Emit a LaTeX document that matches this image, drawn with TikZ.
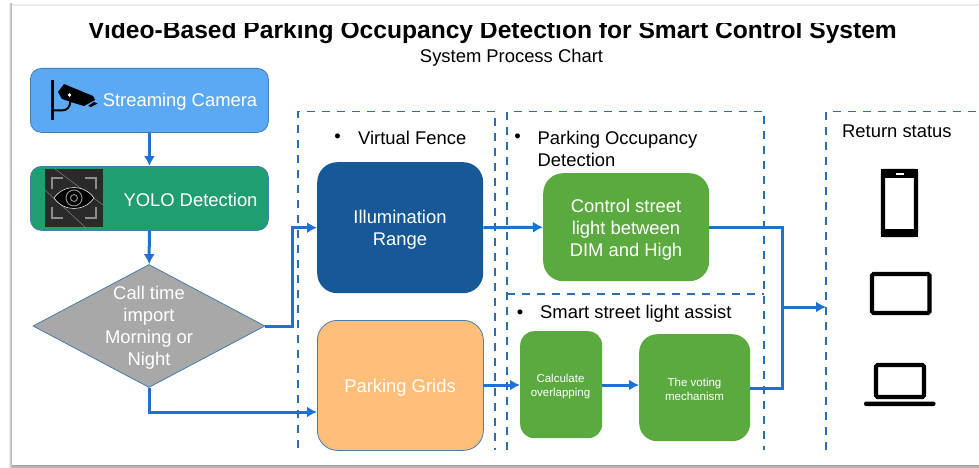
\documentclass[tikz,border=0pt]{standalone}
\usepackage{fontspec}
\setmainfont{Liberation Sans}
\usepackage{tikz}
\definecolor{camblue}{RGB}{91, 168, 245}
\definecolor{yologreen}{RGB}{31, 158, 114}
\definecolor{callgray}{RGB}{168, 168, 168}
\definecolor{illumblue}{RGB}{23, 88, 150}
\definecolor{gridorange}{RGB}{255, 190, 122}
\definecolor{stepgreen}{RGB}{91, 170, 63}
\definecolor{edgeblue}{RGB}{70, 125, 175}
\definecolor{flowblue}{RGB}{30, 115, 210}
\definecolor{fenceblue}{RGB}{45, 110, 175}
\definecolor{icondark}{RGB}{42, 42, 42}
\usetikzlibrary{shapes.geometric}
\usetikzlibrary{arrows.meta}
\tikzset{
  boxtext/.style={text=white, font=\fontsize{18.4}{22}\selectfont, align=center, inner sep=0pt},
  smalltext/.style={text=white, font=\fontsize{11.5}{14}\selectfont, align=center, inner sep=0pt},
  headtext/.style={text=black, font=\fontsize{18.4}{22}\selectfont, align=left, inner sep=0pt, anchor=west},
  flowbox/.style={rounded corners=#1, inner sep=0pt, anchor=north west},
  flow/.style={draw=flowblue, line width=3pt, -{Latex[length=10pt, width=11pt]}},
  flowline/.style={draw=flowblue, line width=3pt},
  fence/.style={draw=fenceblue, line width=1.6pt, dash pattern=on 8pt off 7pt},
  device/.style={draw=black, line width=4.2pt, rounded corners=1.5pt},
}
\begin{document}
\begin{tikzpicture}[x=1pt, y=1pt]
\useasboundingbox (0, 0) rectangle (979, -468);
% sheet
\shade [left color=white, right color=black!35] (8, -4) rectangle (12, -468);
\shade [top color=black!35, bottom color=black!25] (12, -465) rectangle (979, -468);
\fill [color=black!8] (12, -4) rectangle (979, -6);
\fill [color=white] (12, -6) rectangle (979, -465);
% title
\node (title) [font=\bfseries\fontsize{24.6}{28}\selectfont, inner sep=0pt] at (492.5, -32) {Video-Based Parking Occupancy Detection for Smart Control System};
\fill [color=white] (12, -6) rectangle (979, -23.5);
\node (subtitle) [font=\fontsize{18.4}{22}\selectfont, inner sep=0pt] at (511.5, -57.5) {System Process Chart};
% fences
\draw [fence] (298, -448) -- (298, -111.5) -- (495, -111.5) -- (495, -450);
\draw [fence] (507, -450) -- (507, -111.5) -- (764, -111.5) -- (764, -450);
\draw [fence] (507, -294) -- (764, -294);
\draw [fence] (826, -450) -- (826, -111.5) -- (979, -111.5);
% boxes
\node (camera) [flowbox=11pt, minimum width=238pt, minimum height=64pt, fill=camblue, draw=edgeblue, line width=0.8pt] at (30, -68) {};
\node (yolo) [flowbox=11pt, minimum width=238pt, minimum height=64pt, fill=yologreen, draw=edgeblue, line width=0.8pt] at (30, -166) {};
\node (calltime) [diamond, minimum width=232pt, minimum height=123pt, inner sep=0pt, fill=callgray, draw=edgeblue, line width=0.8pt] at (149, -326) {};
\node (illum) [flowbox=20pt, minimum width=166pt, minimum height=131pt, fill=illumblue] at (317, -162) {};
\node (grids) [flowbox=20pt, minimum width=166pt, minimum height=130pt, fill=gridorange, draw=edgeblue, line width=0.8pt] at (317, -320) {};
\node (control) [flowbox=20pt, minimum width=166pt, minimum height=108pt, fill=stepgreen] at (543, -173) {};
\node (overlap) [flowbox=14pt, minimum width=82pt, minimum height=107pt, fill=stepgreen] at (520, -331) {};
\node (voting) [flowbox=18pt, minimum width=111pt, minimum height=107pt, fill=stepgreen] at (639, -334) {};
% labels
\node (cameratext) [boxtext] at (180, -102) {Streaming Camera};
\node (yolotext) [boxtext] at (190.5, -200) {YOLO Detection};
\node (calltext) [boxtext] at (149, -328) {Call time\\import\\Morning or\\Night};
\node (illumtext) [boxtext] at (400, -230) {Illumination\\Range};
\node (gridstext) [boxtext] at (400, -388) {Parking Grids};
\node (controltext) [boxtext] at (626, -230) {Control street\\light between\\DIM and High};
\node (overlaptext) [smalltext] at (560.5, -386.5) {Calculate\\overlapping};
\node (votingtext) [smalltext] at (694.5, -389) {The voting\\mechanism};
\node (bullet1) [font=\fontsize{18.4}{22}\selectfont, inner sep=0pt] at (337.5, -138) {•};
\node (fencetext) [headtext] at (358, -138) {Virtual Fence};
\node (bullet2) [font=\fontsize{18.4}{22}\selectfont, inner sep=0pt] at (517.5, -138) {•};
\node (parktext) [headtext] at (537.5, -148.5) {Parking Occupancy\\Detection};
\node (bullet3) [font=\fontsize{18.4}{22}\selectfont, inner sep=0pt] at (520, -314) {•};
\node (assisttext) [headtext] at (540, -313.5) {Smart street light assist};
\node (returntext) [headtext] at (842, -131) {Return status};
% camera icon
\draw [line width=2.6pt] (52.5, -80) -- (52.5, -120);
\draw [line width=2pt] (52.5, -110.5) -- (62, -110.5) .. controls (67, -110.5) and (70, -107) .. (70.5, -101);
\fill (58, -92) -- (64, -84) -- (93, -96) -- (95, -100) -- (84, -106) -- (74, -103) -- (62, -99) -- cycle;
\fill (88, -106) -- (94, -102) -- (97.5, -103.5) -- (91, -107) -- cycle;
\fill [color=white] (69.5, -95) circle (1.8);
% eye icon
\fill [color=icondark] (45, -169) rectangle (103, -227);
\draw [color=black!50, line width=0.5pt] (55, -169) -- (103, -205);
\draw [color=black!50, line width=0.5pt] (45, -190) -- (85, -227);
\draw [color=black!45, line width=1.3pt] (63, -178) -- (52, -178) -- (52, -189);
\draw [color=black!45, line width=1.3pt] (85, -178) -- (96, -178) -- (96, -189);
\draw [color=black!45, line width=1.3pt] (63, -218) -- (52, -218) -- (52, -207);
\draw [color=black!45, line width=1.3pt] (85, -218) -- (96, -218) -- (96, -207);
\fill [color=black, draw=white, line width=0.5pt] (54, -198) .. controls (64, -184) and (84, -184) .. (94, -198) .. controls (84, -212) and (64, -212) .. (54, -198) -- cycle;
\draw [color=black!40, line width=0.9pt] (74, -198) circle (8);
\draw [color=black!40, line width=0.9pt] (74, -198) circle (3.5);
% connectors
\coordinate (gridsin) at (317, -412);
\coordinate (callturn) at (292, -326);
\coordinate (mergetop) at (782, -227);
\coordinate (mergebot) at (782, -388);
\coordinate (mergeout) at (782, -307);
\coordinate (returnin) at (826, -307);
\coordinate (votingout) at (750, -388);
\coordinate (gridsout) at (483, -385);
\coordinate (overlapin) at (520, -385);
\coordinate (overlapout) at (602, -385);
\coordinate (votingin) at (639, -385);
\draw [flow] (camera) -- (yolo);
\draw [flow] (yolo) -- (calltime);
\draw [flow] (calltime.east) -- (callturn) |- (illum.west);
\draw [flow] (calltime.south) |- (gridsin);
\draw [flow] (illum.east) -- (control.west);
\draw [flow] (gridsout) -- (overlapin);
\draw [flow] (overlapout) -- (votingin);
\draw [flowline] (control.east) -| (mergebot) -- (votingout);
\draw [flow] (mergeout) -- (returnin);
% devices
\draw [device] (883, -171) rectangle (916, -235);
\fill (881, -169) rectangle (918, -178);
\fill (881, -229) rectangle (918, -237);
\fill [color=white] (896, -172.5) rectangle (904, -175);
\draw [device] (872, -274) rectangle (929.5, -313);
\fill [color=black] (900.5, -274) circle (0.8);
\fill (895, -311) rectangle (906, -315);
\draw [device] (876, -365) rectangle (924, -397);
\fill [rounded corners=2pt] (864, -401.5) rectangle (935.5, -406);
\end{tikzpicture}
\end{document}
